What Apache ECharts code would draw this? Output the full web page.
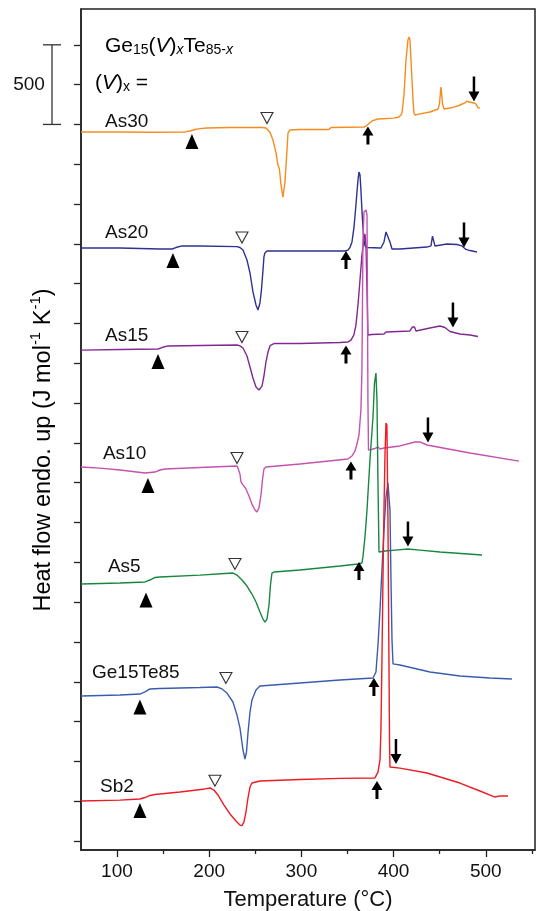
<!DOCTYPE html>
<html>
<head>
<meta charset="utf-8">
<title>DSC Ge15(V)xTe85-x</title>
<script src="https://cdn.jsdelivr.net/npm/echarts@6.0.0/dist/echarts.min.js"></script>
<style>
  html, body { margin: 0; padding: 0; background: #fff; }
  #chart { width: 537px; height: 911px; }
</style>
</head>
<body>
<div id="chart"></div>
<script>
// temperature (°C), heat flow (J mol-1 K-1) — curves are stacked with their own offsets
const as30 = [[61.0,4453],[103.3,4453],[135.8,4451],[173.8,4453],[179.2,4459],[184.6,4468],[190.0,4474],[197.6,4478],[222.6,4481],[257.3,4481],[261.6,4478],[265.9,4453],[269.2,4402],[272.5,4321],[274.6,4245],[276.2,4220],[277.9,4120],[280.0,4044],[282.2,4139],[284.4,4339],[285.5,4446],[287.6,4465],[298.5,4468],[329.9,4468],[332.1,4481],[367.9,4484],[370.1,4490],[373.3,4506],[376.6,4522],[378.7,4531],[383.1,4534],[400.4,4540],[405.8,4547],[408.0,4559],[409.1,4572],[411.3,4685],[413.5,4905],[415.6,5030],[416.7,5049],[417.8,5030],[418.9,4905],[421.1,4653],[422.1,4572],[423.2,4559],[428.6,4566],[439.5,4578],[448.2,4597],[449.8,4628],[450.9,4704],[451.4,4735],[452.0,4704],[453.1,4628],[454.7,4597],[461.2,4603],[466.6,4610],[472.0,4622],[477.4,4635],[479.6,4647],[481.8,4641],[487.2,4635],[489.4,4628],[491.5,4606],[493.7,4603]];
const as20 = [[61.0,3724],[103.3,3724],[146.6,3718],[159.7,3718],[164.0,3727],[170.5,3737],[190.0,3737],[230.2,3733],[233.4,3727],[236.7,3711],[241.0,3649],[244.3,3567],[247.5,3448],[250.8,3366],[252.9,3335],[255.1,3379],[256.7,3460],[258.4,3586],[259.4,3668],[260.5,3693],[262.7,3705],[298.5,3705],[347.3,3705],[350.5,3711],[352.7,3727],[354.9,3762],[357.0,3850],[359.2,3994],[361.4,4151],[362.5,4201],[363.6,4182],[364.6,4088],[365.7,3963],[366.8,3856],[367.9,3774],[369.0,3737],[371.2,3727],[386.3,3724],[389.6,3762],[391.8,3825],[392.8,3831],[393.9,3818],[396.1,3762],[398.3,3718],[406.9,3718],[436.2,3730],[440.6,3737],[442.2,3799],[442.7,3806],[443.3,3787],[444.9,3737],[457.9,3749],[468.8,3746],[474.2,3737],[478.5,3715],[482.9,3708],[490.5,3699]];
const as15 = [[61.0,3083],[103.3,3087],[144.5,3090],[148.8,3099],[155.3,3109],[190.0,3112],[230.2,3115],[233.4,3109],[236.7,3096],[241.0,3046],[244.3,2977],[247.5,2908],[250.8,2851],[254.0,2832],[257.3,2857],[259.4,2920],[261.6,3008],[263.8,3071],[265.9,3109],[268.1,3118],[270.3,3124],[298.5,3124],[341.9,3131],[350.5,3134],[353.8,3146],[357.0,3178],[359.2,3240],[361.4,3366],[363.6,3523],[365.7,3680],[367.9,3787],[369.0,3812],[370.1,3737],[371.2,3460],[372.2,3178],[376.6,3181],[389.6,3184],[391.8,3197],[417.8,3203],[420.5,3228],[421.6,3240],[422.7,3228],[424.3,3203],[439.5,3222],[450.3,3234],[455.7,3225],[461.2,3200],[472.0,3184],[482.9,3178],[491.5,3168]];
const as10 = [[61.0,2349],[81.6,2342],[103.3,2330],[130.4,2311],[141.2,2317],[146.6,2330],[152.1,2336],[190.0,2346],[230.2,2355],[231.2,2342],[233.4,2305],[234.5,2255],[236.7,2236],[239.9,2211],[243.2,2167],[246.4,2116],[249.7,2079],[251.8,2066],[254.0,2091],[256.2,2173],[257.8,2267],[259.4,2336],[261.6,2349],[298.5,2368],[350.5,2399],[354.9,2418],[358.1,2449],[360.3,2493],[362.5,2550],[364.6,2707],[365.7,2958],[366.3,3397],[366.8,3774],[367.9,3950],[370.1,3963],[371.2,3931],[371.7,3397],[372.2,2769],[372.8,2455],[374.4,2455],[379.8,2465],[383.1,2474],[385.3,2462],[389.6,2468],[406.9,2481],[423.2,2506],[428.6,2506],[436.2,2487],[482.9,2437],[536.0,2386]];
const as5 = [[61.0,1614],[103.3,1620],[130.4,1627],[135.8,1639],[141.2,1655],[146.6,1658],[190.0,1670],[217.1,1680],[225.8,1683],[230.2,1670],[235.6,1639],[241.0,1601],[246.4,1551],[250.8,1501],[255.1,1438],[258.4,1394],[260.5,1375],[262.7,1394],[264.9,1482],[266.5,1608],[268.1,1683],[270.3,1689],[298.5,1702],[341.9,1727],[361.4,1740],[365.7,1746],[366.8,1784],[369.0,1909],[371.2,2079],[374.4,2393],[377.7,2663],[379.3,2876],[380.9,2939],[382.0,2769],[383.1,2248],[384.2,1815],[390.7,1821],[401.5,1827],[415.6,1834],[428.6,1827],[450.3,1815],[495.9,1796]];
const ge15te85 = [[61.0,911],[103.3,917],[124.9,923],[130.4,936],[135.8,955],[146.6,958],[190.0,964],[208.5,967],[213.9,955],[219.3,929],[225.8,873],[230.2,791],[233.4,710],[236.7,571],[238.8,515],[240.5,559],[242.1,678],[244.3,810],[246.4,885],[250.8,948],[255.1,973],[298.5,992],[341.9,1011],[377.7,1024],[380.9,1061],[383.1,1231],[385.3,1451],[387.4,1702],[389.6,1953],[391.8,2160],[393.9,2248],[395.0,2242],[396.1,2079],[397.2,1639],[398.3,1262],[399.4,1112],[406.9,1105],[439.5,1061],[472.0,1036],[504.6,1024],[528.4,1017]];
const sb2 = [[61.0,251],[103.3,257],[124.9,264],[130.4,273],[135.8,286],[141.2,292],[168.3,308],[195.4,327],[200.9,333],[205.2,320],[209.5,289],[216.1,226],[222.6,170],[229.1,126],[233.4,100],[235.6,97],[237.7,119],[239.9,182],[242.1,270],[244.3,339],[246.4,364],[255.1,377],[298.5,386],[341.9,393],[379.8,396],[383.1,433],[385.3,509],[386.3,697],[387.4,1137],[388.5,1639],[389.6,2079],[390.7,2424],[391.8,2625],[392.8,2612],[393.9,2016],[395.0,1137],[395.6,634],[396.1,465],[406.9,458],[436.2,427],[472.0,364],[493.7,314],[510.0,276],[515.4,283],[524.1,283]];

const curveNames = ['As30', 'As20', 'As15', 'As10', 'As5', 'Ge15Te85', 'Sb2'];
const curves = [as30, as20, as15, as10, as5, ge15te85, sb2];

// event markers, one per curve: filled ▲, open ▽, onset ↑, end ↓
const tgMarks = [[181.3,4393],[160.7,3646],[144.5,3011],[133.6,2233],[131.5,1513],[124.9,842],[124.9,192]];
const txMarks = [[262.7,4540],[235.6,3790],[235.6,3165],[230.2,2405],[228.0,1740],[218.2,1024],[206.3,379]];
const onsetMarks = [[372.2,4431],[348.4,3649],[348.4,3055],[353.8,2327],[362.5,1696],[378.7,967],[382.0,320]];
const endMarks = [[487.2,4723],[476.4,3806],[464.4,3303],[437.3,2581],[415.6,1928],[402.6,562]];
// where each curve name starts
const labelAt = [[87.0,4515],[87.0,3818],[87.0,3171],[84.8,2430],[90.2,1721],[72.9,1055],[81.6,339]];

const xMajor = [100, 200, 300, 400, 500];
const xMinor = [150, 250, 350, 450, 550];
const yTicks = [0,250,500,750,1000,1250,1500,1750,2000,2250,2500,2750,3000,3250,3500,3750,4000,4250,4500,4750,5000];
const scaleBar = [4500, 5000];

const colors = ['#F68B1F', '#2E3192', '#812990', '#C652B0', '#17873F', '#3A5CB0', '#ED1C24'];
const FONT = '"Liberation Sans", Arial, Helvetica, sans-serif';
const INK = '#222';
const UP = 'path://M5.5,0L11,9L7,9L7,18L4,18L4,9L0,9Z';
const DOWN = 'path://M4.25,0L6.75,0L6.75,15L11,15L5.5,25L0,15L4.25,15Z';

const chart = echarts.init(document.getElementById('chart'));

const lineSeries = curves.map((d, i) => ({
    name: curveNames[i],
    type: 'line',
    data: d,
    symbol: 'none',
    lineStyle: { color: colors[i], width: 1.4 },
    z: 2 + i
}));

const option = {
    animation: false,
    backgroundColor: '#fff',
    grid: {
        left: 81, right: 2, top: 9, bottom: 61,
        outerBoundsMode: 'none',
        show: true, borderColor: INK, borderWidth: 1.5
    },
    xAxis: [
        {
            type: 'value', min: 61, max: 553.4,
            axisLine: { onZero: false, lineStyle: { color: INK, width: 1.5 } },
            axisTick: { customValues: xMajor, length: 7, lineStyle: { color: INK, width: 1.3 } },
            axisLabel: { customValues: xMajor, fontSize: 19, color: '#111', margin: 12, fontFamily: FONT },
            splitLine: { show: false },
            name: 'Temperature (°C)', nameLocation: 'middle', nameGap: 39,
            nameTextStyle: { fontSize: 22, color: '#111', fontFamily: FONT }
        },
        {
            type: 'value', min: 61, max: 553.4, position: 'bottom',
            axisLine: { show: false, onZero: false },
            axisTick: { customValues: xMinor, length: 4, lineStyle: { color: INK, width: 1.3 } },
            axisLabel: { show: false },
            splitLine: { show: false }
        }
    ],
    yAxis: {
        type: 'value', min: -56.5, max: 5225,
        axisLine: { show: true, onZero: false, lineStyle: { color: INK, width: 1.5 } },
        axisTick: { show: true, customValues: yTicks, length: 7, lineStyle: { color: INK, width: 1.3 } },
        axisLabel: { show: false },
        splitLine: { show: false }
    },
    series: lineSeries.concat([
        {
            type: 'scatter', data: tgMarks, symbol: 'triangle', symbolSize: [13, 15],
            itemStyle: { color: '#000', opacity: 1 }, z: 20
        },
        {
            type: 'scatter', data: txMarks, symbol: 'triangle', symbolRotate: 180, symbolSize: [12, 11],
            itemStyle: { color: '#fff', borderColor: '#333', borderWidth: 1.1, opacity: 1 }, z: 20
        },
        {
            type: 'scatter', data: onsetMarks, symbol: UP, symbolSize: [11, 18], symbolKeepAspect: false,
            itemStyle: { color: '#000', opacity: 1 }, z: 20
        },
        {
            type: 'scatter', data: endMarks, symbol: DOWN, symbolSize: [11, 25], symbolKeepAspect: false,
            itemStyle: { color: '#000', opacity: 1 }, z: 20
        },
        {
            type: 'scatter', symbolSize: 0, z: 21,
            itemStyle: { opacity: 1 },
            data: labelAt.map((p, i) => ({ value: p, label: { formatter: curveNames[i] } })),
            label: { show: true, position: 'right', distance: 0, fontSize: 19, color: '#111', fontFamily: FONT }
        }
    ])
};

chart.setOption(option);

// heading, y name and the 500 J mol-1 K-1 scale bar
const yTop = chart.convertToPixel({ yAxisIndex: 0 }, scaleBar[1]);
const yBot = chart.convertToPixel({ yAxisIndex: 0 }, scaleBar[0]);
const barX = 52;

const mainTok = { fontSize: 21, lineHeight: 24, verticalAlign: 'bottom', fontFamily: FONT, color: '#111' };
const subTok = { fontSize: 14, lineHeight: 11, verticalAlign: 'bottom', fontFamily: FONT, color: '#111' };

chart.setOption({
    graphic: [
        {
            type: 'text', left: 105, top: 36, z: 30,
            style: {
                text: '{m|Ge}{s|15}{m|(}{i|V}{m|)}{si|x}{m|Te}{s|85-}{si|x}',
                rich: {
                    m: mainTok,
                    i: Object.assign({}, mainTok, { fontStyle: 'italic' }),
                    s: subTok,
                    si: Object.assign({}, subTok, { fontStyle: 'italic' })
                }
            }
        },
        {
            type: 'text', left: 95, top: 73, z: 30,
            style: {
                text: '{m|(}{i|V}{m|)}{s|x}{m| =}',
                rich: {
                    m: mainTok,
                    i: Object.assign({}, mainTok, { fontStyle: 'italic' }),
                    s: subTok
                }
            }
        },
        {
            type: 'text', x: 42, y: 450, rotation: Math.PI / 2, z: 30,
            style: {
                text: '{m|Heat flow endo. up (J mol}{p|-1}{m| K}{p|-1}{m|)}',
                align: 'center', verticalAlign: 'middle',
                rich: {
                    m: { fontSize: 23.5, lineHeight: 28, verticalAlign: 'bottom', fontFamily: FONT, color: '#111' },
                    p: { fontSize: 15, lineHeight: 15, verticalAlign: 'top', fontFamily: FONT, color: '#111' }
                }
            }
        },
        {
            type: 'text', x: 29, y: (yTop + yBot) / 2, z: 30,
            style: { text: '500', align: 'center', verticalAlign: 'middle', fontSize: 19, fontFamily: FONT, fill: '#111' }
        },
        {
            type: 'polyline', z: 30,
            shape: { points: [[barX, yTop], [barX, yBot]] },
            style: { stroke: '#333', lineWidth: 1.3 }
        },
        {
            type: 'polyline', z: 30,
            shape: { points: [[barX - 9, yTop], [barX + 9, yTop]] },
            style: { stroke: '#333', lineWidth: 1.3 }
        },
        {
            type: 'polyline', z: 30,
            shape: { points: [[barX - 9, yBot], [barX + 9, yBot]] },
            style: { stroke: '#333', lineWidth: 1.3 }
        }
    ]
});

window.addEventListener('resize', () => chart.resize());
</script>
</body>
</html>
